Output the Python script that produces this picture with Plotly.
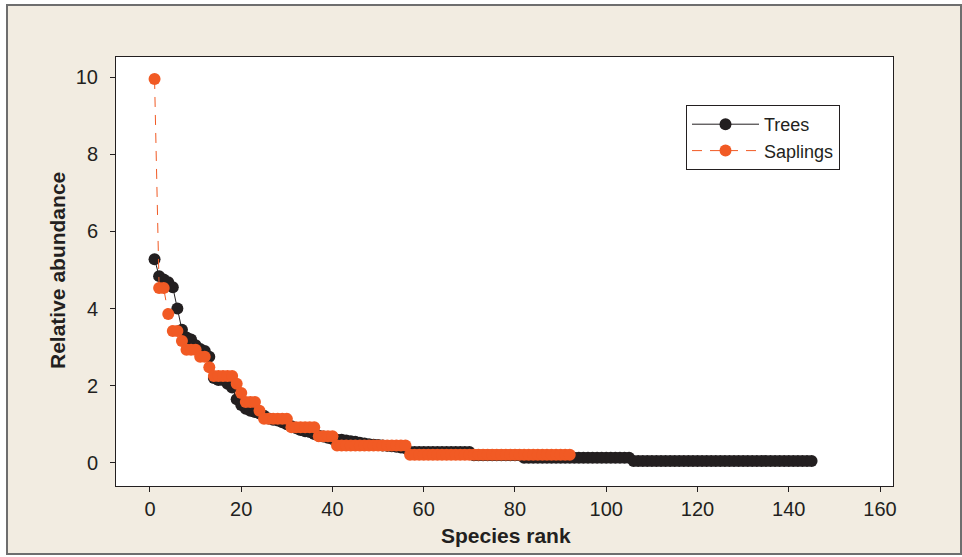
import plotly.graph_objects as go

# ---- data ----
trees_abund = [
    5.28, 4.84, 4.75, 4.68, 4.55, 4.0, 3.45, 3.25, 3.2, 3.05,
    2.95, 2.9, 2.75, 2.2, 2.15, 2.15, 2.05, 1.95, 1.65, 1.5,
    1.4, 1.35, 1.32, 1.28, 1.22, 1.15, 1.12, 1.1, 1.05, 1.0,
    0.95, 0.9, 0.85, 0.82, 0.8, 0.75, 0.7, 0.68, 0.65, 0.62,
    0.6, 0.6, 0.58, 0.56, 0.55, 0.52, 0.5, 0.48, 0.47, 0.46,
    0.45, 0.44, 0.43, 0.42, 0.4, 0.38,
] + [0.28] * 14 + [0.2] * 11 + [0.13] * 24 + [0.05] * 40
trees_rank = list(range(1, len(trees_abund) + 1))

saplings_abund = (
    [9.95, 4.53, 4.53, 3.86, 3.42, 3.42, 3.16, 2.93, 2.93, 2.93,
     2.75, 2.75, 2.48]
    + [2.25] * 5 + [2.05, 1.81] + [1.58] * 3 + [1.35]
    + [1.14] * 6 + [0.92] * 6 + [0.69] * 4 + [0.45] * 16 + [0.21] * 36
)
saplings_rank = list(range(1, len(saplings_abund) + 1))

x_ticks = [0, 20, 40, 60, 80, 100, 120, 140, 160]
y_ticks = [0, 2, 4, 6, 8, 10]

BLACK = "#231F20"
ORANGE = "#F15A24"
FONT = "Liberation Sans, Arial, sans-serif"

fig = go.Figure()
fig.add_trace(go.Scatter(
    x=trees_rank, y=trees_abund, name="Trees", mode="lines+markers",
    line=dict(color=BLACK, width=1),
    marker=dict(color=BLACK, size=12),
))
fig.add_trace(go.Scatter(
    x=saplings_rank, y=saplings_abund, name="Saplings", mode="lines+markers",
    line=dict(color=ORANGE, width=1, dash="10px,8px"),
    marker=dict(color=ORANGE, size=12),
))

L, R, T, B = 116, 893, 57, 486
W, H = 962, 557
pw, ph = R - L, B - T

def px_x(x):
    return (x - L) / pw

def px_y(y):
    return (B - y) / ph

shapes = [
    dict(type="rect", xref="paper", yref="paper", layer="below",
         x0=px_x(7), x1=px_x(961), y0=px_y(554), y1=px_y(5),
         fillcolor="#F2ECE1", line=dict(color="#6E6E6E", width=2)),
    dict(type="rect", xref="paper", yref="paper", layer="below",
         x0=0, x1=1, y0=0, y1=1,
         fillcolor="white", line=dict(width=0)),
]

fig.update_layout(
    width=W, height=H,
    margin=dict(l=L, r=W - R, t=T, b=H - B),
    paper_bgcolor="white",
    plot_bgcolor="white",
    font=dict(family=FONT, size=20, color=BLACK),
    shapes=shapes,
    showlegend=True,
    legend=dict(
        x=px_x(686), y=px_y(105), xanchor="left", yanchor="top",
        bgcolor="white", bordercolor=BLACK, borderwidth=1,
        font=dict(family=FONT, size=18, color=BLACK),
        itemwidth=67, tracegroupgap=0,
    ),
    annotations=[
        dict(text="<b>Species rank</b>", xref="paper", yref="paper",
             x=px_x(506), y=px_y(535), xanchor="center", yanchor="middle",
             showarrow=False,
             font=dict(family=FONT, size=21, color=BLACK)),
        dict(text="<b>Relative abundance</b>", xref="paper", yref="paper",
             x=px_x(57), y=px_y(270), xanchor="center", yanchor="middle",
             showarrow=False, textangle=-90,
             font=dict(family=FONT, size=21, color=BLACK)),
    ],
)
fig.update_xaxes(
    range=[-7.45, 162.85], tickvals=x_ticks, ticks="outside", ticklen=5,
    tickcolor=BLACK, showline=True, linecolor=BLACK, linewidth=1, mirror=True,
    showgrid=False, zeroline=False, tickfont=dict(size=20, color=BLACK),
)
fig.update_yaxes(
    range=[-0.6, 10.52], tickvals=y_ticks, ticks="outside", ticklen=5,
    tickcolor=BLACK, showline=True, linecolor=BLACK, linewidth=1, mirror=True,
    showgrid=False, zeroline=False, tickfont=dict(size=20, color=BLACK),
    ticklabelstandoff=8,
)

fig.write_html("out.html")
